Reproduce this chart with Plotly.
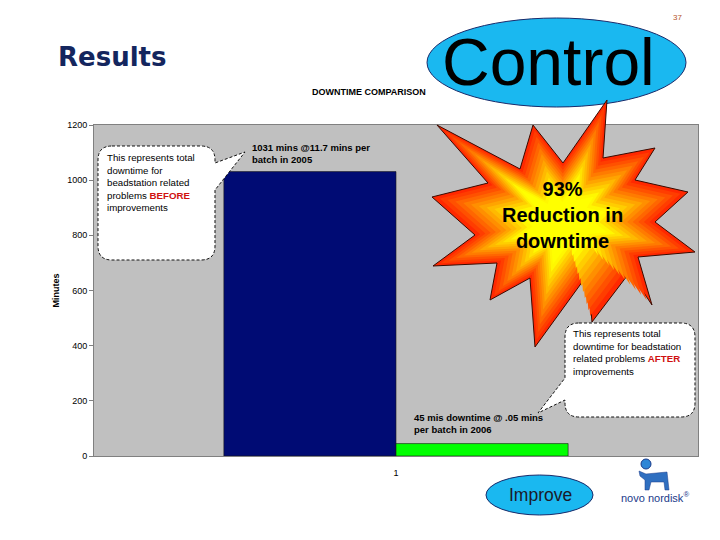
import plotly.graph_objects as go

# ---- data ----
categories = ["1"]
before_2005 = [1031]
after_2006 = [45]
y_ticks = [0, 200, 400, 600, 800, 1000, 1200]

OFF = 8  # page body margin offset
W, H = 712, 532
L, R, T, B = 86, 22, 117, 84
PW, PH = W - L - R, H - T - B


def px(x):
    return (x - OFF - L) / PW


def py(y):
    return (H - B - (y - OFF)) / PH


def path_from(points, close=True):
    s = "M {:.5f},{:.5f}".format(px(points[0][0]), py(points[0][1]))
    for p in points[1:]:
        if p[0] == "Q":
            s += " Q {:.5f},{:.5f} {:.5f},{:.5f}".format(px(p[1]), py(p[2]), px(p[3]), py(p[4]))
        else:
            s += " L {:.5f},{:.5f}".format(px(p[0]), py(p[1]))
    if close:
        s += " Z"
    return s


fig = go.Figure()
fig.add_trace(go.Bar(x=categories, y=before_2005, name="2005",
                     marker=dict(color="#000b74", line=dict(color="#1a1a1a", width=0.6))))
fig.add_trace(go.Bar(x=categories, y=after_2006, name="2006",
                     marker=dict(color="#00ff00", line=dict(color="#1a1a1a", width=0.6))))

shapes = []

# Control ellipse
shapes.append(dict(type="circle", xref="paper", yref="paper",
                   x0=px(427), x1=px(686), y0=py(107), y1=py(18),
                   fillcolor="#1ab8f0", line=dict(color="#1a2a6a", width=1), layer="above"))

# Starburst (layered for radial gradient)
star = [(437, 125), (520, 169), (533, 125), (563, 163), (607, 100), (603, 158),
        (655, 148), (635, 180), (688, 192), (655, 222), (695, 252), (638, 257),
        (652, 305), (630, 272), (592, 322), (588, 274), (535, 347), (530, 278),
        (490, 300), (497, 263), (433, 266), (475, 235), (432, 197), (488, 183)]
cx, cy = 562, 222
n_layers = 14
for i in range(n_layers):
    s = 1.0 - i * (0.78 / (n_layers - 1))
    t = i / (n_layers - 1)
    g = int(round(0x28 + (0xff - 0x28) * min(1.0, t * 1.25)))
    c = "#ff{:02x}00".format(g)
    pts = [(cx + (x - cx) * s, cy + (y - cy) * s) for x, y in star]
    shapes.append(dict(type="path", xref="paper", yref="paper", path=path_from(pts),
                       fillcolor=c, layer="above",
                       line=dict(color="#3a0a00" if i == 0 else c, width=1 if i == 0 else 0)))

# Left callout
r = 14
x0, x1, y0, y1 = 98, 215, 146, 260
left_call = [(x0 + r, y0), (x1 - r, y0), ("Q", x1, y0, x1, y0 + r), (x1, 163), (245, 152),
             (x1, 190), (x1, y1 - r), ("Q", x1, y1, x1 - r, y1), (x0 + r, y1),
             ("Q", x0, y1, x0, y1 - r), (x0, y0 + r), ("Q", x0, y0, x0 + r, y0)]
shapes.append(dict(type="path", xref="paper", yref="paper", path=path_from(left_call),
                   fillcolor="white", line=dict(color="#111111", width=1, dash="3px,2px"),
                   layer="above"))

# Right callout
x0, x1, y0, y1 = 565, 695, 323, 417
right_call = [(x0 + r, y0), (x1 - r, y0), ("Q", x1, y0, x1, y0 + r), (x1, y1 - r),
              ("Q", x1, y1, x1 - r, y1), (x0 + r, y1), ("Q", x0, y1, x0, y1 - r),
              (x0, 400), (538, 413), (x0, 378), (x0, y0 + r), ("Q", x0, y0, x0 + r, y0)]
shapes.append(dict(type="path", xref="paper", yref="paper", path=path_from(right_call),
                   fillcolor="white", line=dict(color="#111111", width=1, dash="3px,2px"),
                   layer="above"))

# Improve ellipse
shapes.append(dict(type="circle", xref="paper", yref="paper",
                   x0=px(486), x1=px(593), y0=py(515), y1=py(475),
                   fillcolor="#1ab8f0", line=dict(color="#1a2a6a", width=1), layer="above"))

# Logo (simplified bull)
shapes.append(dict(type="circle", xref="paper", yref="paper",
                   x0=px(641), x1=px(651), y0=py(469), y1=py(459),
                   fillcolor="#2f86d6", line=dict(color="#1a3a8a", width=1), layer="above"))
bull = [(639, 471), (646, 474), (667, 472), (669, 490), (665, 490), (664, 482), (651, 482),
        (649, 490), (645, 490), (645, 480), (640, 476)]
shapes.append(dict(type="path", xref="paper", yref="paper", path=path_from(bull),
                   fillcolor="#2f6fc0", line=dict(color="#1a3a8a", width=0.5), layer="above"))

ann = []


def text(x, y, t, size, color="black", bold=False, family="Liberation Sans", xanchor="left",
         yanchor="top", align="left"):
    if bold:
        t = "<b>" + t.replace("<br>", "</b><br><b>") + "</b>"
    ann.append(dict(x=px(x), y=py(y), xref="paper", yref="paper", text=t, showarrow=False,
                    xanchor=xanchor, yanchor=yanchor, align=align,
                    font=dict(size=size, color=color, family=family)))


text(56, 57, "<b>Results</b>", 26, color="#14265e", family="DejaVu Sans", yanchor="middle")
text(677, 18, "37", 8, color="#b5552a", xanchor="center", yanchor="middle")
text(369, 92, "DOWNTIME COMPARISON", 9, bold=True, xanchor="center", yanchor="middle")
text(548, 62, "Control", 66, color="black", xanchor="center", yanchor="middle")
text(562, 215, "<b>93%<br>Reduction in<br>downtime</b>", 20, xanchor="center",
     yanchor="middle", align="center")
text(105, 150, "This represents total<br>downtime for<br>beadstation related<br>"
     "problems <b><span style='color:#d01010'>BEFORE</span></b><br>improvements", 9.7)
text(571, 326, "This represents total<br>downtime for beadstation<br>"
     "related problems <b><span style='color:#d01010'>AFTER</span></b><br>improvements", 9.7)
text(250, 140, "1031 mins @11.7 mins per<br>batch in 2005", 9.5, bold=True)
text(412, 410, "45 mis downtime @ .05 mins<br>per batch in 2006", 9.5, bold=True)
text(540, 495, "Improve", 17.5, color="#1a1a2a", xanchor="center", yanchor="middle")
text(655, 497, "novo nordisk<sup>®</sup>", 11, color="#1a3a8a", xanchor="center", yanchor="middle")

fig.update_layout(
    width=W, height=H,
    margin=dict(l=L, r=R, t=T, b=B),
    paper_bgcolor="white", plot_bgcolor="#c0c0c0",
    barmode="group", bargap=0.43, bargroupgap=0,
    showlegend=False,
    shapes=shapes, annotations=ann,
    font=dict(family="Liberation Sans", color="black"),
)
fig.update_xaxes(type="category", showgrid=False, showline=True, linecolor="#808080",
                 mirror=True, ticks="", tickfont=dict(size=9), ticklabelstandoff=8)
fig.update_yaxes(range=[0, 1200], tickvals=y_ticks, showgrid=False, showline=True,
                 linecolor="#808080", mirror=True, ticks="outside", ticklen=4,
                 tickcolor="#808080", tickfont=dict(size=9), zeroline=False,
                 title=dict(text="<b>Minutes</b>", font=dict(size=9), standoff=6))

fig.write_html("out.html")
